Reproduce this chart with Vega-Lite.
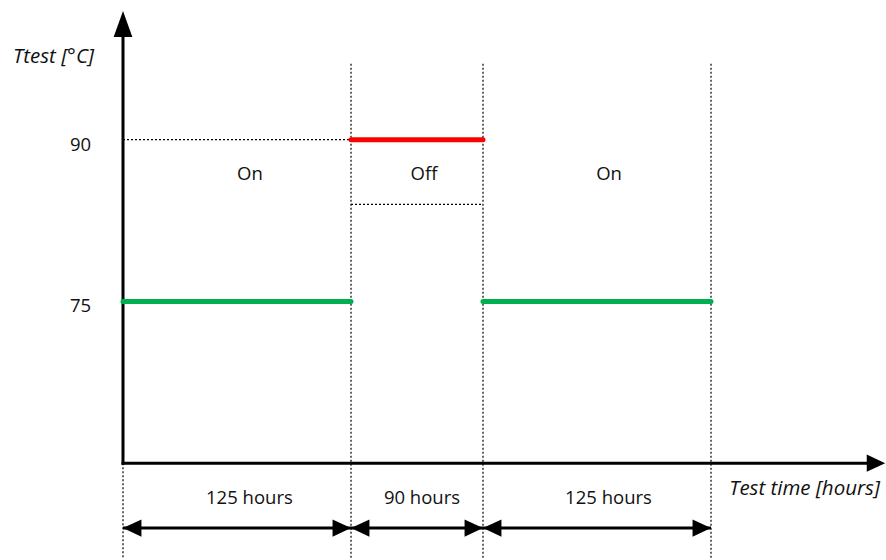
{
  "$schema": "https://vega.github.io/schema/vega-lite/v6.json",
  "width": 886,
  "height": 560,
  "autosize": {"type": "fit", "contains": "padding"},
  "padding": 0,
  "background": "white",
  "config": {"view": {"stroke": null}, "text": {"font": "Open Sans", "fontSize": 18.5, "color": "#111111"}},
  "layer": [
    {
      "data": {"values": [
        {"h": 0, "T1": 60, "T2": 51.11},
        {"h": 125, "T1": 97.04, "T2": 51.11},
        {"h": 215, "T1": 97.04, "T2": 51.11},
        {"h": 340, "T1": 97.04, "T2": 51.11}
      ]},
      "mark": {"type": "rule", "color": "black", "strokeWidth": 1.2, "strokeDash": [2, 2]},
      "encoding": {
        "x": {"field": "h", "type": "quantitative", "scale": {"domain": [0, 125, 215, 340], "range": [123, 351, 483, 711], "nice": false, "zero": false}, "axis": null},
        "y": {"field": "T1", "type": "quantitative", "scale": {"domain": [51.11, 102.96], "nice": false, "zero": false}, "axis": null},
        "y2": {"field": "T2"}
      }
    },
    {
      "data": {"values": [
        {"h1": 0, "h2": 125, "T": 90},
        {"h1": 125, "h2": 215, "T": 84}
      ]},
      "mark": {"type": "rule", "color": "black", "strokeWidth": 1.2, "strokeDash": [2, 2]},
      "encoding": {
        "x": {"field": "h1", "type": "quantitative", "scale": {"domain": [0, 125, 215, 340], "range": [123, 351, 483, 711], "nice": false, "zero": false}, "axis": null},
        "x2": {"field": "h2"},
        "y": {"field": "T", "type": "quantitative", "scale": {"domain": [51.11, 102.96], "nice": false, "zero": false}, "axis": null}
      }
    },
    {
      "data": {"values": [
        {"h1": 0, "h2": 0, "T1": 60, "T2": 99.6},
        {"h1": 0, "h2": 427, "T1": 60, "T2": 60}
      ]},
      "mark": {"type": "rule", "color": "black", "strokeWidth": 3, "strokeCap": "square"},
      "encoding": {
        "x": {"field": "h1", "type": "quantitative", "scale": {"domain": [0, 125, 215, 340], "range": [123, 351, 483, 711], "nice": false, "zero": false}, "axis": null},
        "x2": {"field": "h2"},
        "y": {"field": "T1", "type": "quantitative", "scale": {"domain": [51.11, 102.96], "nice": false, "zero": false}, "axis": null},
        "y2": {"field": "T2"}
      }
    },
    {
      "data": {"values": [
        {"h1": 0, "h2": 125, "T": 53.98},
        {"h1": 125, "h2": 215, "T": 53.98},
        {"h1": 215, "h2": 340, "T": 53.98}
      ]},
      "mark": {"type": "rule", "color": "black", "strokeWidth": 3},
      "encoding": {
        "x": {"field": "h1", "type": "quantitative", "scale": {"domain": [0, 125, 215, 340], "range": [123, 351, 483, 711], "nice": false, "zero": false}, "axis": null},
        "x2": {"field": "h2"},
        "y": {"field": "T", "type": "quantitative", "scale": {"domain": [51.11, 102.96], "nice": false, "zero": false}, "axis": null}
      }
    },
    {
      "data": {"values": [
        {"h": 0, "T": 101.94, "dir": "up"},
        {"h": 435.5, "T": 60, "dir": "right"},
        {"h": 0, "T": 53.98, "dir": "left"},
        {"h": 125, "T": 53.98, "dir": "right"},
        {"h": 125, "T": 53.98, "dir": "left"},
        {"h": 215, "T": 53.98, "dir": "right"},
        {"h": 215, "T": 53.98, "dir": "left"},
        {"h": 340, "T": 53.98, "dir": "right"}
      ]},
      "mark": {"type": "point", "filled": true, "size": 676, "color": "black", "opacity": 1, "strokeWidth": 0},
      "encoding": {
        "x": {"field": "h", "type": "quantitative", "scale": {"domain": [0, 125, 215, 340], "range": [123, 351, 483, 711], "nice": false, "zero": false}, "axis": null},
        "y": {"field": "T", "type": "quantitative", "scale": {"domain": [51.11, 102.96], "nice": false, "zero": false}, "axis": null},
        "shape": {"field": "dir", "type": "nominal", "legend": null, "scale": {"domain": ["up", "right", "left"], "range": ["M0,0L-0.72,2L0.72,2Z", "M0,0L-1.42,-0.66L-1.42,0.66Z", "M0,0L1.42,-0.66L1.42,0.66Z"]}}
      }
    },
    {
      "data": {"values": [
        {"h1": 0, "h2": 125, "T": 75, "mode": "On"},
        {"h1": 125, "h2": 215, "T": 90, "mode": "Off"},
        {"h1": 215, "h2": 340, "T": 75, "mode": "On"}
      ]},
      "mark": {"type": "rule", "strokeWidth": 5, "strokeCap": "round"},
      "encoding": {
        "x": {"field": "h1", "type": "quantitative", "scale": {"domain": [0, 125, 215, 340], "range": [123, 351, 483, 711], "nice": false, "zero": false}, "axis": null},
        "x2": {"field": "h2"},
        "y": {"field": "T", "type": "quantitative", "scale": {"domain": [51.11, 102.96], "nice": false, "zero": false}, "axis": null},
        "color": {"field": "mode", "type": "nominal", "legend": null, "scale": {"domain": ["On", "Off"], "range": ["#00b050", "#ff0000"]}}
      }
    },
    {
      "data": {"values": [
        {"h": -17.5, "T": 90, "label": "90"},
        {"h": -17.5, "T": 75, "label": "75"}
      ]},
      "mark": {"type": "text", "align": "right", "baseline": "middle", "dy": 5},
      "encoding": {
        "x": {"field": "h", "type": "quantitative", "scale": {"domain": [0, 125, 215, 340], "range": [123, 351, 483, 711], "nice": false, "zero": false}, "axis": null},
        "y": {"field": "T", "type": "quantitative", "scale": {"domain": [51.11, 102.96], "nice": false, "zero": false}, "axis": null},
        "text": {"field": "label"}
      }
    },
    {
      "data": {"values": [
        {"h": 69.6, "T": 86.85, "label": "On"},
        {"h": 174.8, "T": 86.85, "label": "Off"},
        {"h": 284.1, "T": 86.85, "label": "On"},
        {"h": 69.3, "T": 56.76, "label": "125 hours"},
        {"h": 173.4, "T": 56.76, "label": "90 hours"},
        {"h": 283.8, "T": 56.76, "label": "125 hours"}
      ]},
      "mark": {"type": "text", "align": "center", "baseline": "middle"},
      "encoding": {
        "x": {"field": "h", "type": "quantitative", "scale": {"domain": [0, 125, 215, 340], "range": [123, 351, 483, 711], "nice": false, "zero": false}, "axis": null},
        "y": {"field": "T", "type": "quantitative", "scale": {"domain": [51.11, 102.96], "nice": false, "zero": false}, "axis": null},
        "text": {"field": "label"}
      }
    },
    {
      "data": {"values": [
        {"h": -60.3, "T": 97.69, "label": "Ttest [°C]"}
      ]},
      "mark": {"type": "text", "align": "left", "baseline": "middle", "fontStyle": "italic", "fontSize": 20.5},
      "encoding": {
        "x": {"field": "h", "type": "quantitative", "scale": {"domain": [0, 125, 215, 340], "range": [123, 351, 483, 711], "nice": false, "zero": false}, "axis": null},
        "y": {"field": "T", "type": "quantitative", "scale": {"domain": [51.11, 102.96], "nice": false, "zero": false}, "axis": null},
        "text": {"field": "label"}
      }
    },
    {
      "data": {"values": [
        {"h": 432.6, "T": 57.59, "label": "Test time [hours]"}
      ]},
      "mark": {"type": "text", "align": "right", "baseline": "middle", "fontStyle": "italic", "fontSize": 20.5},
      "encoding": {
        "x": {"field": "h", "type": "quantitative", "scale": {"domain": [0, 125, 215, 340], "range": [123, 351, 483, 711], "nice": false, "zero": false}, "axis": null},
        "y": {"field": "T", "type": "quantitative", "scale": {"domain": [51.11, 102.96], "nice": false, "zero": false}, "axis": null},
        "text": {"field": "label"}
      }
    }
  ]
}
